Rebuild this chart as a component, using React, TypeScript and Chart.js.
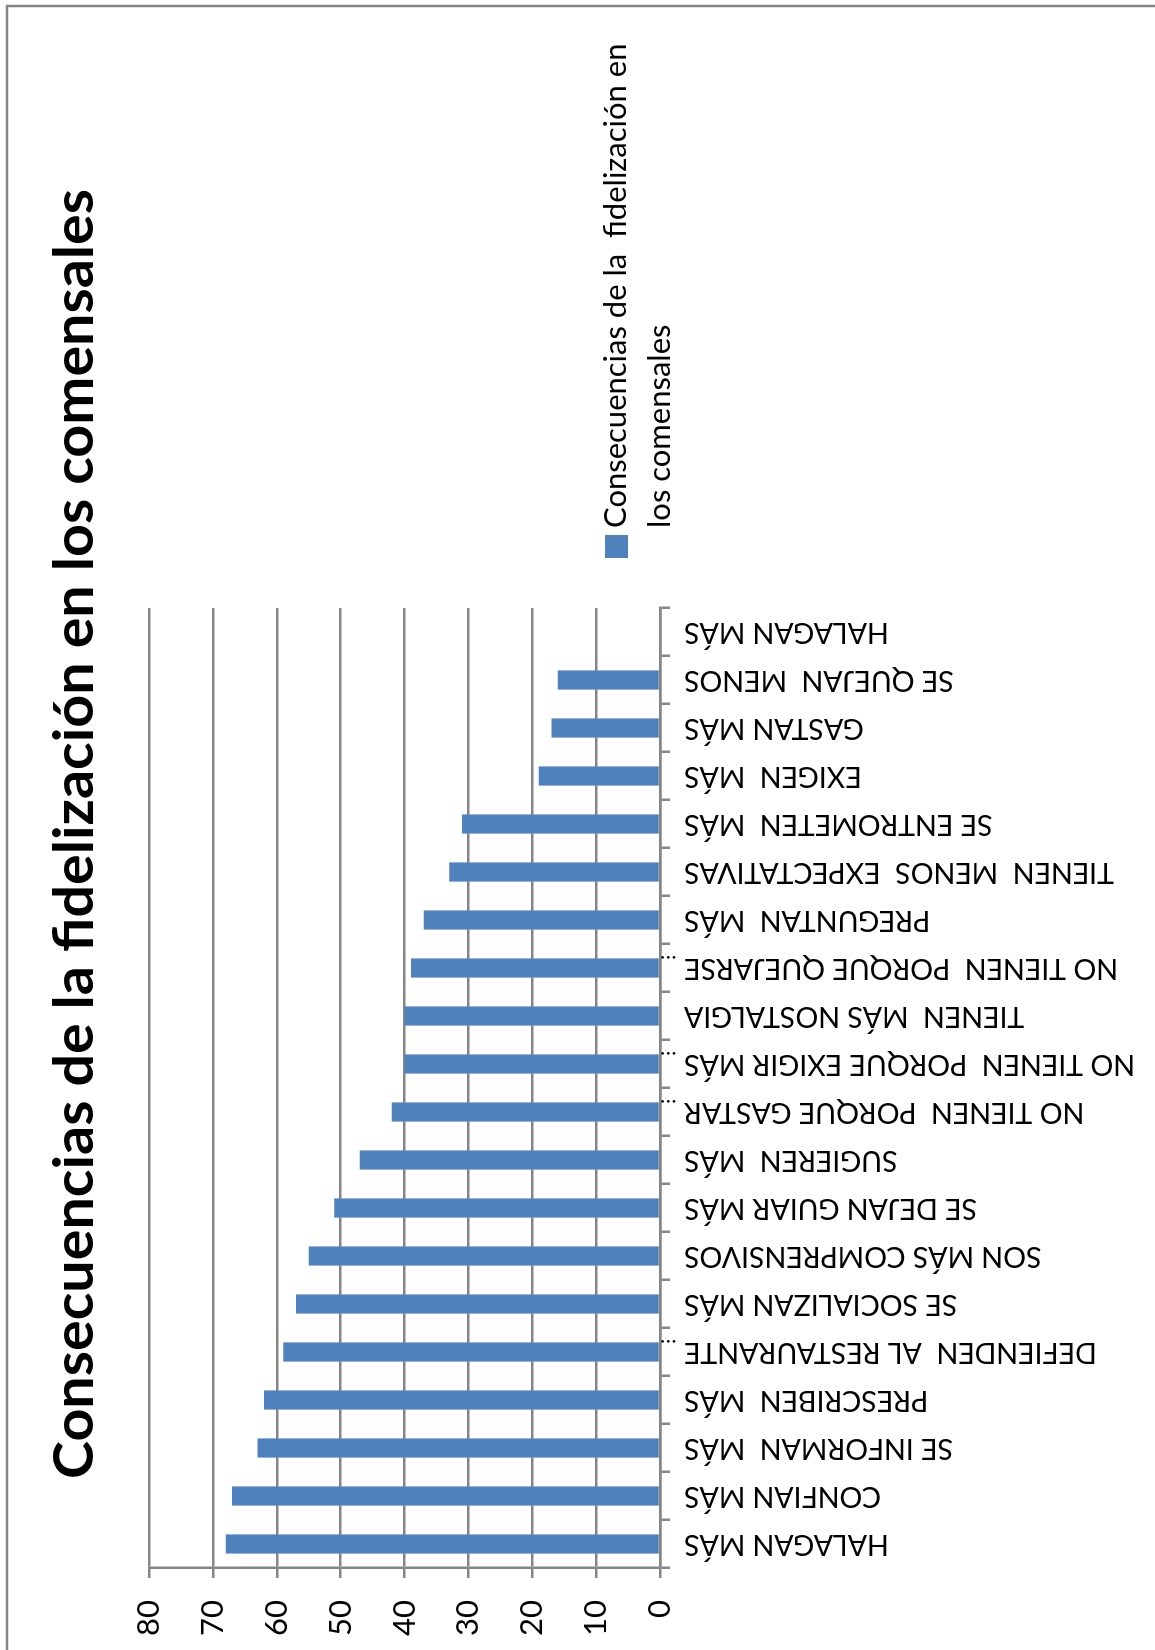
import React, { useEffect, useRef } from 'react';
import { Chart, registerables } from 'chart.js';

Chart.register(...registerables);

const titleText = 'Consecuencias de la fidelización en los comensales';
const legendLines = ['Consecuencias de la  fidelización en', 'los comensales'];
const categories = [
  'HALAGAN MÁS',
  'CONFIAN MÁS',
  'SE INFORMAN  MÁS',
  'PRESCRIBEN  MÁS',
  'DEFIENDEN  AL RESTAURANTE …',
  'SE SOCIALIZAN MÁS',
  'SON MÁS COMPRENSIVOS',
  'SE DEJAN GUIAR MÁS',
  'SUGIEREN  MÁS',
  'NO TIENEN  PORQUE GASTAR…',
  'NO TIENEN  PORQUE EXIGIR MÁS…',
  'TIENEN  MÁS NOSTALGIA',
  'NO TIENEN  PORQUE QUEJARSE…',
  'PREGUNTAN  MÁS',
  'TIENEN  MENOS  EXPECTATIVAS',
  'SE ENTROMETEN  MÁS',
  'EXIGEN  MÁS',
  'GASTAN MÁS',
  'SE QUEJAN  MENOS',
  'HALAGAN MÁS',
];
const values: (number | null)[] = [68, 67, 63, 62, 59, 57, 55, 51, 47, 42, 40, 40, 39, 37, 33, 31, 19, 17, 16, null];
const axisMin = 0;
const axisMax = 80;
const axisStep = 10;

const BAR = '#4F81BD';
const GRID = '#868686';
const FONT = 'Lato, "Open Sans", sans-serif';
const ELLIPSIS = '…';

const decor = {
  id: 'decor',
  beforeDraw(chart: any) {
    const ctx = chart.ctx;
    ctx.save();
    ctx.fillStyle = '#ffffff';
    ctx.fillRect(0, 0, chart.width, chart.height);
    ctx.strokeStyle = GRID;
    ctx.lineWidth = 2.5;
    ctx.beginPath();
    ctx.moveTo(0, 7);
    ctx.lineTo(1644, 7);
    ctx.lineTo(1644, chart.height);
    ctx.stroke();
    ctx.restore();
  },
  afterDraw(chart: any) {
    const ctx = chart.ctx;
    // title, condensed to the reference's length
    ctx.save();
    ctx.fillStyle = '#000000';
    ctx.font = `bold 56px ${FONT}`;
    ctx.textAlign = 'center';
    ctx.textBaseline = 'alphabetic';
    const w = ctx.measureText(titleText).width;
    ctx.translate(816, 93);
    ctx.scale(1290 / w, 1);
    ctx.fillText(titleText, 0, 0);
    ctx.restore();

    // legend
    ctx.save();
    ctx.fillStyle = BAR;
    ctx.fillRect(1092, 605, 23, 23);
    ctx.fillStyle = '#000000';
    ctx.font = `31px ${FONT}`;
    ctx.textAlign = 'left';
    ctx.textBaseline = 'middle';
    ctx.fillText(legendLines[0], 1122, 616);
    ctx.fillText(legendLines[1], 1122, 660);
    ctx.restore();

    // ellipsis marks of truncated category labels, sitting by the axis
    const xs = chart.scales.x;
    ctx.save();
    ctx.fillStyle = '#000000';
    ctx.font = `22px ${FONT}`;
    categories.forEach((c, i) => {
      if (!c.endsWith(ELLIPSIS)) return;
      const px = xs.getPixelForTick(i);
      ctx.save();
      ctx.translate(px + 12, 660);
      ctx.rotate(-Math.PI / 2);
      ctx.textAlign = 'right';
      ctx.textBaseline = 'alphabetic';
      ctx.fillText(ELLIPSIS, 0, 0);
      ctx.restore();
    });
    ctx.restore();
  },
};

export default function App() {
  const ref = useRef<HTMLCanvasElement>(null);
  useEffect(() => {
    const chart = new Chart(ref.current as HTMLCanvasElement, {
      type: 'bar',
      data: {
        labels: categories,
        datasets: [
          {
            label: legendLines.join(' '),
            data: values,
            backgroundColor: BAR,
            borderWidth: 0,
            categoryPercentage: 1,
            barPercentage: 0.4,
          },
        ],
      },
      options: {
        animation: false,
        responsive: false,
        devicePixelRatio: 1,
        layout: { padding: { top: 149, right: 608, left: 0, bottom: 0 } },
        plugins: { legend: { display: false }, title: { display: false }, tooltip: { enabled: false } },
        scales: {
          x: {
            type: 'category',
            offset: true,
            grid: { offset: true, drawOnChartArea: false, drawTicks: true, tickLength: 10, color: GRID, lineWidth: 2.5 },
            border: { color: GRID, width: 2.5 },
            ticks: {
              autoSkip: false,
              minRotation: 90,
              maxRotation: 90,
              padding: 14,
              color: '#000000',
              font: { family: FONT, size: 28.5 },
              callback: (_v: any, i: number) => categories[i].replace(ELLIPSIS, '').trimEnd(),
            },
            afterFit(scale: any) {
              scale.height = 495;
            },
          },
          y: {
            min: axisMin,
            max: axisMax,
            ticks: { stepSize: axisStep, padding: 22, color: '#000000', font: { family: FONT, size: 31 } },
            grid: { color: GRID, lineWidth: 2.5, tickLength: 10 },
            border: { color: GRID, width: 2.5 },
            afterFit(scale: any) {
              scale.width = 82;
            },
          },
        },
      },
      plugins: [decor],
    } as any);
    return () => chart.destroy();
  }, []);
  return (
    <div style={{ position: 'absolute', left: 0, top: 0, width: 1155, height: 1650, overflow: 'hidden', background: '#ffffff' }}>
      <canvas
        ref={ref}
        width={1650}
        height={1155}
        style={{
          position: 'absolute',
          left: 0,
          top: 0,
          width: 1650,
          height: 1155,
          transformOrigin: '0 0',
          transform: 'translateY(1650px) rotate(-90deg)',
        }}
      />
    </div>
  );
}
